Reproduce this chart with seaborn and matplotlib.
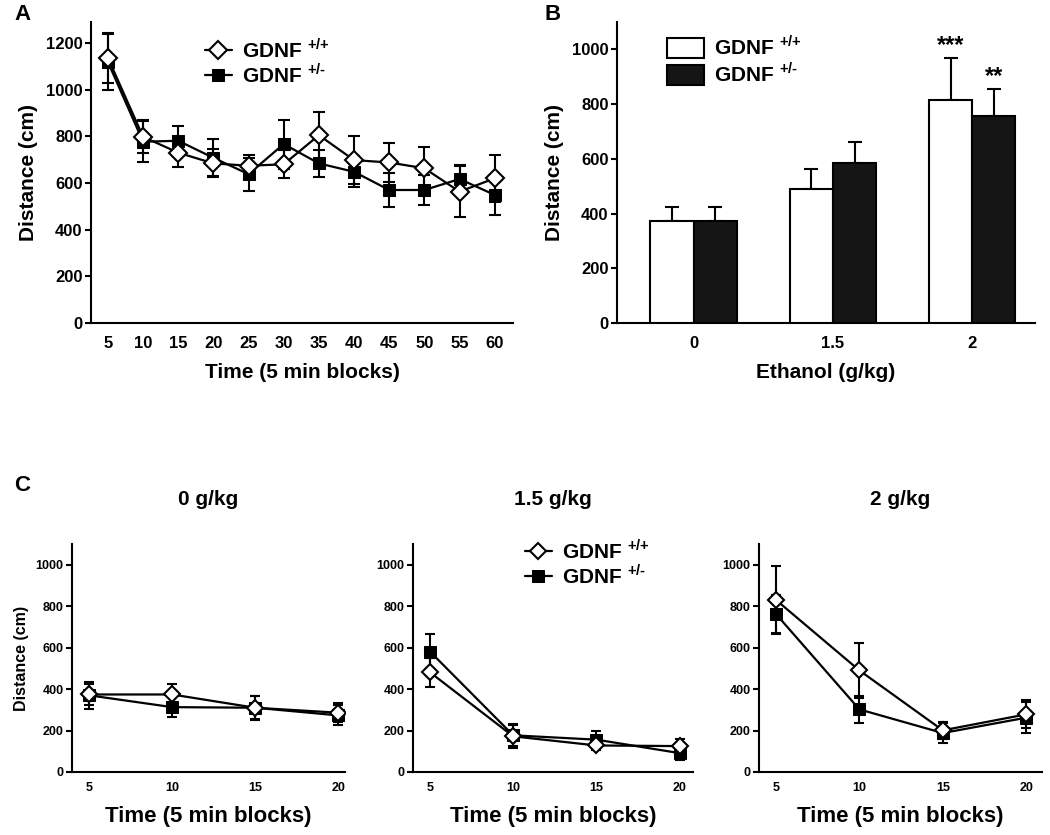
import numpy as np
import pandas as pd
import matplotlib
matplotlib.use("Agg")
import matplotlib.pyplot as plt
import seaborn as sns

# ---------------- data ----------------
time_A = [5, 10, 15, 20, 25, 30, 35, 40, 45, 50, 55, 60]
wt_A = [1137, 798, 730, 684, 674, 680, 805, 698, 688, 663, 563, 620]
wt_A_err = [107, 70, 60, 60, 45, 60, 100, 103, 82, 93, 110, 100]
ko_A = [1119, 777, 781, 708, 638, 767, 684, 648, 570, 570, 617, 549]
ko_A_err = [121, 87, 63, 80, 71, 105, 57, 67, 71, 64, 60, 86]

doses = ["0", "1.5", "2"]
wt_B = [373, 490, 816]
wt_B_err = [51, 74, 152]
ko_B = [371, 584, 756]
ko_B_err = [53, 77, 98]
wt_B_sig = ["", "", "***"]
ko_B_sig = ["", "", "**"]

time_C = [5, 10, 15, 20]
titles_C = ["0 g/kg", "1.5 g/kg", "2 g/kg"]
wt_C = [[374, 374, 310, 286], [481, 172, 128, 125], [830, 490, 201, 278]]
wt_C_err = [[51, 51, 55, 45], [69, 55, 20, 36], [162, 133, 40, 67]]
ko_C = [[370, 313, 310, 273], [581, 177, 156, 91], [762, 302, 188, 262]]
ko_C_err = [[65, 48, 58, 48], [85, 53, 41, 32], [91, 66, 48, 74]]

lab_wt = r"GDNF $^{\mathbf{{+}{/}{+}}}$"
lab_ko = "GDNF $^{\\mathbf{{+}{/}}\u2010}$"

# ---------------- style ----------------
sns.set_style("ticks")
plt.rcParams["font.family"] = ["Liberation Sans", "DejaVu Sans"]
plt.rcParams["font.weight"] = "bold"
plt.rcParams["axes.labelweight"] = "bold"
plt.rcParams["mathtext.fontset"] = "custom"
plt.rcParams["mathtext.rm"] = "Liberation Sans:bold"
plt.rcParams["mathtext.bf"] = "Liberation Sans:bold"
plt.rcParams["axes.linewidth"] = 1.5
for k in ["text.color", "axes.labelcolor", "xtick.color", "ytick.color",
          "axes.edgecolor"]:
    plt.rcParams[k] = "black"

fig = plt.figure(figsize=(10.5, 8.35), dpi=100)
W, H = 1050, 835


def add_ax(l, t, r, b):
    return fig.add_axes([l / W, 1 - b / H, (r - l) / W, (b - t) / H])


def style_ax(ax, tick_fs):
    sns.despine(ax=ax)
    ax.tick_params(axis="y", direction="out", length=4, width=1.5,
                   labelsize=tick_fs, pad=2, colors="black")
    ax.tick_params(axis="x", length=0, labelsize=tick_fs, pad=9,
                   colors="black")
    for lab in ax.get_xticklabels() + ax.get_yticklabels():
        lab.set_fontweight("bold")


def draw_series(ax, t, wt, wte, ko, koe, ms_d, ms_s, cap, with_label):
    ax.errorbar(t, ko, yerr=koe, fmt="none", ecolor="k", capsize=cap,
                elinewidth=1.5, capthick=1.5, zorder=2)
    ax.errorbar(t, wt, yerr=wte, fmt="none", ecolor="k", capsize=cap,
                elinewidth=1.5, capthick=1.5, zorder=2)
    sns.lineplot(x=t, y=ko, ax=ax, color="k", marker="s", markersize=ms_s,
                 markerfacecolor="k", markeredgecolor="k", lw=1.6,
                 label=lab_ko if with_label else None, zorder=3)
    sns.lineplot(x=t, y=wt, ax=ax, color="k", marker="D", markersize=ms_d,
                 markerfacecolor="white", markeredgecolor="k",
                 markeredgewidth=1.5, lw=1.6,
                 label=lab_wt if with_label else None, zorder=4)


# ---------------- panel A ----------------
axA = add_ax(91, 22, 513, 323)
draw_series(axA, time_A, wt_A, wt_A_err, ko_A, ko_A_err, 9, 9, 4, True)
axA.set_xlim(2.6, 62.6)
axA.set_ylim(0, 1290)
axA.set_xticks(time_A)
axA.set_yticks([0, 200, 400, 600, 800, 1000, 1200])
axA.set_xlabel("Time (5 min blocks)", fontsize=15, fontweight="bold",
               labelpad=9)
axA.set_ylabel("Distance (cm)", fontsize=15, fontweight="bold", labelpad=6)
style_ax(axA, 12)
h, l = axA.get_legend_handles_labels()
axA.legend([h[1], h[0]], [l[1], l[0]], loc="upper left",
           bbox_to_anchor=(0.25, 0.975), frameon=False, fontsize=15,
           handlelength=1.3, handletextpad=0.5, labelspacing=0.05,
           borderaxespad=0)
fig.text(14 / W, 1 - 15 / H, "A", fontsize=16, fontweight="bold",
         va="center", ha="left")

# ---------------- panel B ----------------
axB = add_ax(617, 22, 1035, 323)
dfB = pd.DataFrame({
    "dose": doses + doses,
    "dist": wt_B + ko_B,
    "geno": [lab_wt] * len(doses) + [lab_ko] * len(doses),
})
sns.barplot(data=dfB, x="dose", y="dist", hue="geno", order=doses,
            hue_order=[lab_wt, lab_ko], palette=["white", "#151515"],
            edgecolor="k", linewidth=1.5, width=0.62, errorbar=None,
            ax=axB, zorder=3)
for cont, errs, sigs in zip(axB.containers, [wt_B_err, ko_B_err],
                            [wt_B_sig, ko_B_sig]):
    xs = [p.get_x() + p.get_width() / 2 for p in cont.patches]
    hs = [p.get_height() for p in cont.patches]
    axB.errorbar(xs, hs, yerr=[np.zeros(len(errs)), errs], fmt="none",
                 ecolor="k", capsize=5, elinewidth=1.5, capthick=1.5,
                 zorder=2)
    for x, hh, e, s in zip(xs, hs, errs, sigs):
        if s:
            axB.annotate(s, (x, hh + e), xytext=(0, 1),
                         textcoords="offset points", ha="center",
                         va="bottom", fontsize=17, fontweight="bold")
axB.set_xlim(-0.55, 2.45)
axB.set_ylim(0, 1100)
axB.set_yticks([0, 200, 400, 600, 800, 1000])
axB.set_xlabel("Ethanol (g/kg)", fontsize=15, fontweight="bold",
               labelpad=9)
axB.set_ylabel("Distance (cm)", fontsize=15, fontweight="bold", labelpad=6)
style_ax(axB, 12)
axB.legend(loc="upper left", bbox_to_anchor=(0.1, 0.985), frameon=False,
           fontsize=15, handlelength=1.75, handleheight=1.1,
           handletextpad=0.5, labelspacing=0.15, borderaxespad=0)
fig.text(545 / W, 1 - 14 / H, "B", fontsize=16, fontweight="bold",
         va="center", ha="left")

# ---------------- panel C ----------------
boxes = [(72, 544, 345, 772), (413, 544, 693, 772), (759, 544, 1042, 772)]
xr = [20.4, 20.8, 20.95]
for i, (bx, title) in enumerate(zip(boxes, titles_C)):
    ax = add_ax(*bx)
    draw_series(ax, time_C, wt_C[i], wt_C_err[i], ko_C[i], ko_C_err[i],
                8, 8, 3.5, i == 1)
    ax.set_xlim(3.98, xr[i])
    ax.set_ylim(0, 1100)
    ax.set_xticks(time_C)
    ax.set_yticks([0, 200, 400, 600, 800, 1000])
    ax.set_xlabel("Time (5 min blocks)", fontsize=16, fontweight="bold",
                  labelpad=9)
    if i == 0:
        ax.set_ylabel("Distance (cm)", fontsize=11.5, fontweight="bold",
                      labelpad=5)
    else:
        ax.set_ylabel("")
    style_ax(ax, 9)
    ax.tick_params(axis="x", pad=7)
    ax.set_title(title, fontsize=15, fontweight="bold", pad=28)
    if i == 1:
        h, l = ax.get_legend_handles_labels()
        ax.legend([h[1], h[0]], [l[1], l[0]], loc="upper left",
                  bbox_to_anchor=(0.37, 1.06), frameon=False, fontsize=15,
                  handlelength=1.3, handletextpad=0.5, labelspacing=0.05,
                  borderaxespad=0)
    else:
        if ax.get_legend() is not None:
            ax.get_legend().remove()
fig.text(14 / W, 1 - 486 / H, "C", fontsize=16, fontweight="bold",
         va="center", ha="left")

fig.savefig("out.png", dpi=100, facecolor="white")
